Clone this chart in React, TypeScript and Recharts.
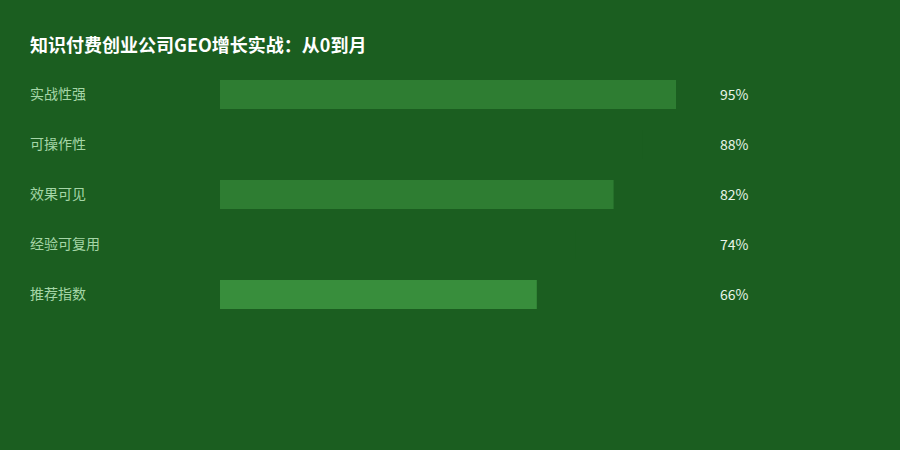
import React from "react";
import { BarChart, Bar, XAxis, YAxis, Cell, LabelList } from "recharts";

// Scores per criterion (%)
const categories = ["实战性强", "可操作性", "效果可见", "经验可复用", "推荐指数"];
const scores = [95, 88, 82, 74, 66];
// Rows 2 and 4 are drawn in the background colour, so they look empty
const barColors = ["#2E7D32", "#1B5E20", "#2E7D32", "#1B5E20", "#388E3C"];

const BG = "#1B5E20";
const FONT = "'Noto Sans CJK SC', 'Noto Sans', sans-serif";

const data = categories.map((name, i) => ({ name, value: scores[i] }));

function CategoryTick(props: any) {
  const { y, payload } = props;
  return (
    <text
      x={30}
      y={y}
      dy={5}
      textAnchor="start"
      fill="#A5D6A7"
      fontSize={14}
      fontFamily={FONT}
    >
      {payload.value}
    </text>
  );
}

function ValueLabel(props: any) {
  const { y, height, value } = props;
  return (
    <text
      x={720}
      y={y + height / 2}
      dy={5}
      textAnchor="start"
      fill="#E8F5E9"
      fontSize={14}
      fontFamily={FONT}
    >
      {value}%
    </text>
  );
}

export default function App() {
  return (
    <div
      style={{
        position: "absolute",
        left: 0,
        top: 0,
        width: 900,
        height: 450,
        background: BG,
        fontFamily: FONT,
      }}
    >
      <div
        style={{
          position: "absolute",
          left: 30,
          top: 30,
          color: "#FFFFFF",
          fontSize: 18,
          fontWeight: 700,
          lineHeight: "28px",
        }}
      >
        知识付费创业公司GEO增长实战：从0到月
      </div>
      <BarChart
        width={900}
        height={450}
        layout="vertical"
        data={data}
        margin={{ top: 69, right: 200, bottom: 131, left: 30 }}
      >
        <XAxis type="number" domain={[0, 100]} hide />
        <YAxis
          type="category"
          dataKey="name"
          width={190}
          axisLine={false}
          tickLine={false}
          tick={<CategoryTick />}
        />
        <Bar dataKey="value" barSize={29} isAnimationActive={false}>
          {data.map((d, i) => (
            <Cell key={d.name} fill={barColors[i]} />
          ))}
          <LabelList dataKey="value" content={<ValueLabel />} />
        </Bar>
      </BarChart>
    </div>
  );
}
